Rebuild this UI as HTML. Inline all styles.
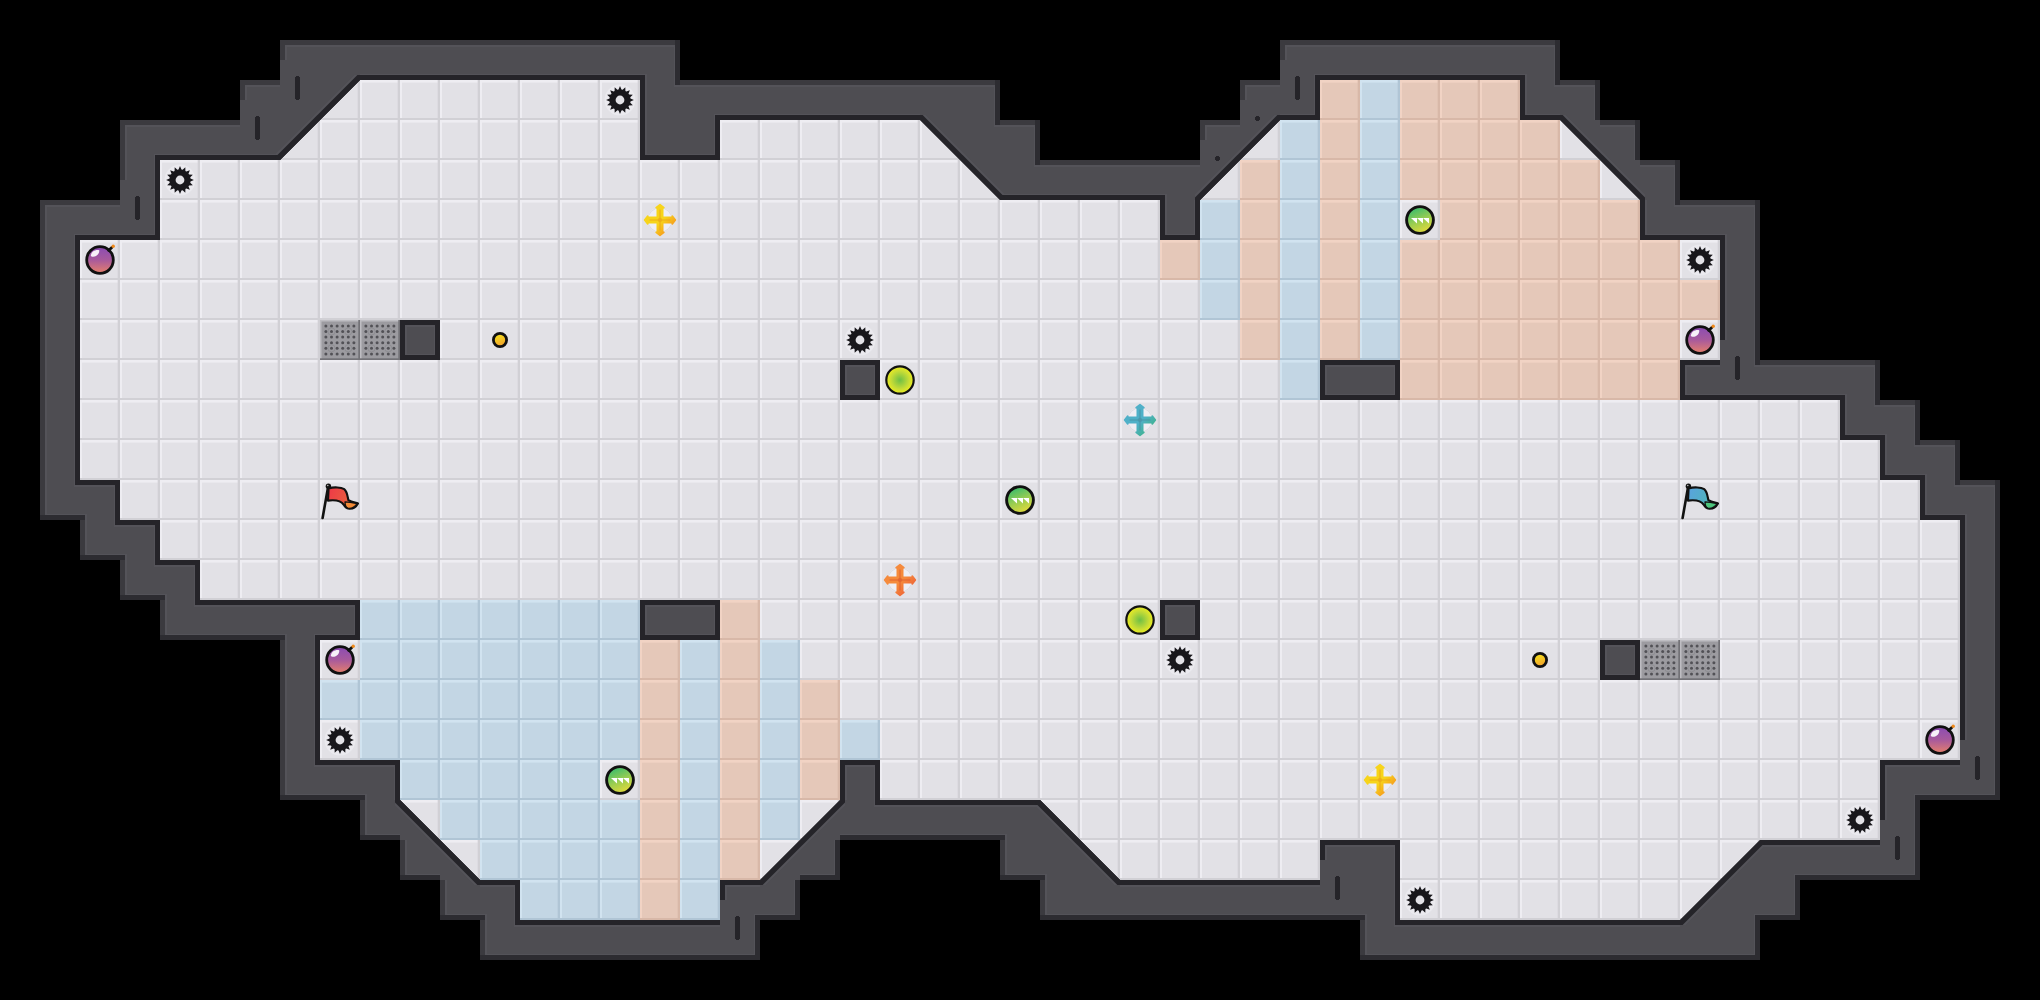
<!DOCTYPE html>
<html><head><meta charset="utf-8"><style>html,body{margin:0;padding:0;background:#000;overflow:hidden}svg{display:block}</style></head>
<body><svg width="2040" height="1000" viewBox="0 0 2040 1000" shape-rendering="crispEdges">
<defs><pattern id="pf" x="0" y="0" width="40" height="40" patternUnits="userSpaceOnUse"><rect width="40" height="40" fill="#e2e1e6"/><rect y="0" width="40" height="3" fill="#eeedf2" opacity="0.6"/><rect y="0" width="40" height="1.5" fill="#eeedf2"/><rect width="2" height="40" fill="#eeedf2"/><rect x="37" width="3" height="40" fill="#d1d0d5" opacity="0.3"/><rect x="38.3" width="1.7" height="40" fill="#d1d0d5"/><rect y="37.5" width="40" height="2.5" fill="#d1d0d5" opacity="0.6"/><rect y="38.3" width="40" height="1.7" fill="#d1d0d5"/></pattern><pattern id="pr" x="0" y="0" width="40" height="40" patternUnits="userSpaceOnUse"><rect width="40" height="40" fill="#e5c8b9"/><rect y="0" width="40" height="3" fill="#f1d3c4" opacity="0.6"/><rect y="0" width="40" height="1.5" fill="#f1d3c4"/><rect width="2" height="40" fill="#f1d3c4"/><rect x="37" width="3" height="40" fill="#d8b8a8" opacity="0.3"/><rect x="38.3" width="1.7" height="40" fill="#d8b8a8"/><rect y="37.5" width="40" height="2.5" fill="#d8b8a8" opacity="0.6"/><rect y="38.3" width="40" height="1.7" fill="#d8b8a8"/></pattern><pattern id="pb" x="0" y="0" width="40" height="40" patternUnits="userSpaceOnUse"><rect width="40" height="40" fill="#c3d6e4"/><rect y="0" width="40" height="3" fill="#d1e3f0" opacity="0.6"/><rect y="0" width="40" height="1.5" fill="#d1e3f0"/><rect width="2" height="40" fill="#d1e3f0"/><rect x="37" width="3" height="40" fill="#b0c5d5" opacity="0.3"/><rect x="38.3" width="1.7" height="40" fill="#b0c5d5"/><rect y="37.5" width="40" height="2.5" fill="#b0c5d5" opacity="0.6"/><rect y="38.3" width="40" height="1.7" fill="#b0c5d5"/></pattern>
<linearGradient id="gBomb" x1="0" y1="0" x2="0" y2="1"><stop offset="0" stop-color="#8a4cb4"/><stop offset="0.5" stop-color="#a85a9c"/><stop offset="1" stop-color="#e7806a"/></linearGradient>
<linearGradient id="gBtn" x1="0" y1="0" x2="0.4" y2="1"><stop offset="0" stop-color="#f4ec1a"/><stop offset="1" stop-color="#f3a52c"/></linearGradient>
<radialGradient id="gLime" cx="0.5" cy="0.5" r="0.5"><stop offset="0" stop-color="#6fbf45"/><stop offset="0.65" stop-color="#c6dc36"/><stop offset="1" stop-color="#eeee1e"/></radialGradient>
<linearGradient id="gPortal" x1="0.3" y1="0.05" x2="0.7" y2="0.95"><stop offset="0" stop-color="#3cbc6c"/><stop offset="0.5" stop-color="#96cc52"/><stop offset="1" stop-color="#e2da3a"/></linearGradient>
<g id="spike"><circle cx="20" cy="20" r="15.5" fill="#f2f2f6" opacity="0.55"/><path d="M18.51 9.51L20.00 6.10L21.49 9.51L22.64 9.73L25.32 7.16L25.40 10.88L26.36 11.52L29.83 10.17L28.48 13.64L29.12 14.60L32.84 14.68L30.27 17.36L30.49 18.51L33.90 20.00L30.49 21.49L30.27 22.64L32.84 25.32L29.12 25.40L28.48 26.36L29.83 29.83L26.36 28.48L25.40 29.12L25.32 32.84L22.64 30.27L21.49 30.49L20.00 33.90L18.51 30.49L17.36 30.27L14.68 32.84L14.60 29.12L13.64 28.48L10.17 29.83L11.52 26.36L10.88 25.40L7.16 25.32L9.73 22.64L9.51 21.49L6.10 20.00L9.51 18.51L9.73 17.36L7.16 14.68L10.88 14.60L11.52 13.64L10.17 10.17L13.64 11.52L14.60 10.88L14.68 7.16L17.36 9.73z" fill="#18171b"/><circle cx="20" cy="20" r="4.4" fill="#e2e1e6"/></g>
<g id="bomb"><circle cx="20" cy="20" r="13.3" fill="url(#gBomb)" stroke="#111" stroke-width="2.8"/><path d="M10.8 15.8 C11.2 11.8, 14.8 9.6, 19.2 10.2 C19.8 13.2, 16.8 16.8, 13 16.8 C12 16.8, 11.2 16.5, 10.8 15.8z" fill="#fff" opacity="0.92"/><path d="M28.6 10.4 L31.8 7.4" stroke="#111" stroke-width="2.8" stroke-linecap="round"/><circle cx="33.2" cy="6.2" r="1.7" fill="#f08a1c"/></g>
<g id="button"><circle cx="20" cy="20" r="6.6" fill="url(#gBtn)" stroke="#111" stroke-width="2.8"/></g>
<g id="lime"><circle cx="20" cy="20" r="13.7" fill="url(#gLime)" stroke="#111" stroke-width="2.2"/></g>
<g id="portal"><circle cx="20" cy="20" r="13.4" fill="url(#gPortal)" stroke="#111" stroke-width="2.9"/><path d="M11 18h6v5.6zM17 18h6v5.6zM23 18h6v5.6z" fill="#fff"/></g>
<g id="gate"><rect width="40" height="40" fill="#9c9ba0"/><rect width="40" height="1.5" fill="#bebdc2"/><rect width="1.5" height="40" fill="#bebdc2"/><rect x="38.3" width="1.7" height="40" fill="#737277"/><rect y="38.3" width="40" height="1.7" fill="#737277"/><circle cx="5.9" cy="5.9" r="1.5" fill="#525156"/><circle cx="5.9" cy="11.5" r="1.5" fill="#525156"/><circle cx="5.9" cy="17.1" r="1.5" fill="#525156"/><circle cx="5.9" cy="22.7" r="1.5" fill="#525156"/><circle cx="5.9" cy="28.3" r="1.5" fill="#525156"/><circle cx="5.9" cy="33.9" r="1.5" fill="#525156"/><circle cx="11.5" cy="5.9" r="1.5" fill="#525156"/><circle cx="11.5" cy="11.5" r="1.5" fill="#525156"/><circle cx="11.5" cy="17.1" r="1.5" fill="#525156"/><circle cx="11.5" cy="22.7" r="1.5" fill="#525156"/><circle cx="11.5" cy="28.3" r="1.5" fill="#525156"/><circle cx="11.5" cy="33.9" r="1.5" fill="#525156"/><circle cx="17.1" cy="5.9" r="1.5" fill="#525156"/><circle cx="17.1" cy="11.5" r="1.5" fill="#525156"/><circle cx="17.1" cy="17.1" r="1.5" fill="#525156"/><circle cx="17.1" cy="22.7" r="1.5" fill="#525156"/><circle cx="17.1" cy="28.3" r="1.5" fill="#525156"/><circle cx="17.1" cy="33.9" r="1.5" fill="#525156"/><circle cx="22.7" cy="5.9" r="1.5" fill="#525156"/><circle cx="22.7" cy="11.5" r="1.5" fill="#525156"/><circle cx="22.7" cy="17.1" r="1.5" fill="#525156"/><circle cx="22.7" cy="22.7" r="1.5" fill="#525156"/><circle cx="22.7" cy="28.3" r="1.5" fill="#525156"/><circle cx="22.7" cy="33.9" r="1.5" fill="#525156"/><circle cx="28.3" cy="5.9" r="1.5" fill="#525156"/><circle cx="28.3" cy="11.5" r="1.5" fill="#525156"/><circle cx="28.3" cy="17.1" r="1.5" fill="#525156"/><circle cx="28.3" cy="22.7" r="1.5" fill="#525156"/><circle cx="28.3" cy="28.3" r="1.5" fill="#525156"/><circle cx="28.3" cy="33.9" r="1.5" fill="#525156"/><circle cx="33.9" cy="5.9" r="1.5" fill="#525156"/><circle cx="33.9" cy="11.5" r="1.5" fill="#525156"/><circle cx="33.9" cy="17.1" r="1.5" fill="#525156"/><circle cx="33.9" cy="22.7" r="1.5" fill="#525156"/><circle cx="33.9" cy="28.3" r="1.5" fill="#525156"/><circle cx="33.9" cy="33.9" r="1.5" fill="#525156"/><circle cx="11.5" cy="11.5" r="3.6" fill="none" stroke="#8c8b90" stroke-width="0.8"/><circle cx="11.5" cy="28.3" r="3.6" fill="none" stroke="#8c8b90" stroke-width="0.8"/><circle cx="28.3" cy="11.5" r="3.6" fill="none" stroke="#8c8b90" stroke-width="0.8"/><circle cx="28.3" cy="28.3" r="3.6" fill="none" stroke="#8c8b90" stroke-width="0.8"/></g>
<linearGradient id="gboostY" x1="0.15" y1="0.15" x2="0.85" y2="0.85"><stop offset="0" stop-color="#f7d41a"/><stop offset="0.55" stop-color="#f7d41a" stop-opacity="1"/><stop offset="1" stop-color="#f6941e"/></linearGradient><g id="boostY"><circle cx="20" cy="20" r="12.6" fill="#efeef4"/><circle cx="20" cy="20" r="12.2" fill="none" stroke="#d2d1d9" stroke-width="1" opacity="0.7"/><path d="M17.30 7.70L16.10 7.70L20.00 4.60L23.90 7.70L22.70 7.70L22.70 17.30L32.30 17.30L32.30 16.10L35.40 20.00L32.30 23.90L32.30 22.70L22.70 22.70L22.70 32.30L23.90 32.30L20.00 35.40L16.10 32.30L17.30 32.30L17.30 22.70L7.70 22.70L7.70 23.90L4.60 20.00L7.70 16.10L7.70 17.30L17.30 17.30z" fill="url(#gboostY)" stroke="url(#gboostY)" stroke-width="1.6" stroke-linejoin="round"/><path d="M20 9.5V30.5M9.5 20H30.5" stroke="#eaa21a" stroke-width="1.6" opacity="0.5"/><circle cx="20" cy="20" r="2.2" fill="#eaa21a" opacity="0.5"/></g>
<linearGradient id="gboostR" x1="0.15" y1="0.15" x2="0.85" y2="0.85"><stop offset="0" stop-color="#f58a3c"/><stop offset="0.55" stop-color="#f58a3c" stop-opacity="1"/><stop offset="1" stop-color="#ee6236"/></linearGradient><g id="boostR"><circle cx="20" cy="20" r="12.6" fill="#efeef4"/><circle cx="20" cy="20" r="12.2" fill="none" stroke="#d2d1d9" stroke-width="1" opacity="0.7"/><path d="M17.30 7.70L16.10 7.70L20.00 4.60L23.90 7.70L22.70 7.70L22.70 17.30L32.30 17.30L32.30 16.10L35.40 20.00L32.30 23.90L32.30 22.70L22.70 22.70L22.70 32.30L23.90 32.30L20.00 35.40L16.10 32.30L17.30 32.30L17.30 22.70L7.70 22.70L7.70 23.90L4.60 20.00L7.70 16.10L7.70 17.30L17.30 17.30z" fill="url(#gboostR)" stroke="url(#gboostR)" stroke-width="1.6" stroke-linejoin="round"/><path d="M20 9.5V30.5M9.5 20H30.5" stroke="#dc5a2e" stroke-width="1.6" opacity="0.5"/><circle cx="20" cy="20" r="2.2" fill="#dc5a2e" opacity="0.5"/></g>
<linearGradient id="gboostB" x1="0.15" y1="0.15" x2="0.85" y2="0.85"><stop offset="0" stop-color="#4fb0c8"/><stop offset="0.55" stop-color="#4fb0c8" stop-opacity="1"/><stop offset="1" stop-color="#3fb38a"/></linearGradient><g id="boostB"><circle cx="20" cy="20" r="12.6" fill="#efeef4"/><circle cx="20" cy="20" r="12.2" fill="none" stroke="#d2d1d9" stroke-width="1" opacity="0.7"/><path d="M17.30 7.70L16.10 7.70L20.00 4.60L23.90 7.70L22.70 7.70L22.70 17.30L32.30 17.30L32.30 16.10L35.40 20.00L32.30 23.90L32.30 22.70L22.70 22.70L22.70 32.30L23.90 32.30L20.00 35.40L16.10 32.30L17.30 32.30L17.30 22.70L7.70 22.70L7.70 23.90L4.60 20.00L7.70 16.10L7.70 17.30L17.30 17.30z" fill="url(#gboostB)" stroke="url(#gboostB)" stroke-width="1.6" stroke-linejoin="round"/><path d="M20 9.5V30.5M9.5 20H30.5" stroke="#4a8ea0" stroke-width="1.6" opacity="0.5"/><circle cx="20" cy="20" r="2.2" fill="#4a8ea0" opacity="0.5"/></g>
<linearGradient id="gFR" x1="0" y1="0" x2="1" y2="0.3"><stop offset="0" stop-color="#ee3848"/><stop offset="1" stop-color="#e8663c"/></linearGradient>
<linearGradient id="gFB" x1="0" y1="0" x2="1" y2="0.3"><stop offset="0" stop-color="#5aa2e0"/><stop offset="1" stop-color="#4db8b4"/></linearGradient>
<g id="flagR"><path d="M8.6 8.4 C14 6.8, 21 7.2, 24.2 9.2 C27.2 11.5, 27.6 16.5, 28.4 20.2 C31 22, 35 22.6, 38 23.4 C36.2 26.6, 33 29, 29.2 28.8 C26.2 28.6, 24.6 26.4, 23.6 24.6 C21.6 21.4, 17 19.6, 8 20.6 Z" fill="url(#gFR)" stroke="#111" stroke-width="2.1" stroke-linejoin="round"/><path d="M25 21.8 C29 22, 33.5 22.8, 37 23.5 C35 26.8, 31 28.6, 28 28.2 C26 27.6, 25 25, 25 21.8 Z" fill="#f28a36" stroke="#111" stroke-width="1.3" stroke-linejoin="round"/><path d="M8 7.5 L2.6 38" stroke="#111" stroke-width="2.6" stroke-linecap="round"/><circle cx="8.4" cy="6.2" r="2.7" fill="#111"/><circle cx="7.8" cy="5.5" r="0.7" fill="#ccc"/></g>
<g id="flagB"><path d="M8.6 8.4 C14 6.8, 21 7.2, 24.2 9.2 C27.2 11.5, 27.6 16.5, 28.4 20.2 C31 22, 35 22.6, 38 23.4 C36.2 26.6, 33 29, 29.2 28.8 C26.2 28.6, 24.6 26.4, 23.6 24.6 C21.6 21.4, 17 19.6, 8 20.6 Z" fill="url(#gFB)" stroke="#111" stroke-width="2.1" stroke-linejoin="round"/><path d="M25 21.8 C29 22, 33.5 22.8, 37 23.5 C35 26.8, 31 28.6, 28 28.2 C26 27.6, 25 25, 25 21.8 Z" fill="#4cc47c" stroke="#111" stroke-width="1.3" stroke-linejoin="round"/><path d="M8 7.5 L2.6 38" stroke="#111" stroke-width="2.6" stroke-linecap="round"/><circle cx="8.4" cy="6.2" r="2.7" fill="#111"/><circle cx="7.8" cy="5.5" r="0.7" fill="#ccc"/></g>
</defs>
<rect width="2040" height="1000" fill="#000"/>
<g><path d="M320 80h40v40h-40zM360 80h40v40h-40zM400 80h40v40h-40zM440 80h40v40h-40zM480 80h40v40h-40zM520 80h40v40h-40zM560 80h40v40h-40zM600 80h40v40h-40zM280 120h40v40h-40zM320 120h40v40h-40zM360 120h40v40h-40zM400 120h40v40h-40zM440 120h40v40h-40zM480 120h40v40h-40zM520 120h40v40h-40zM560 120h40v40h-40zM600 120h40v40h-40zM720 120h40v40h-40zM760 120h40v40h-40zM800 120h40v40h-40zM840 120h40v40h-40zM880 120h40v40h-40zM920 120h40v40h-40zM1240 120h40v40h-40zM1560 120h40v40h-40zM160 160h40v40h-40zM200 160h40v40h-40zM240 160h40v40h-40zM280 160h40v40h-40zM320 160h40v40h-40zM360 160h40v40h-40zM400 160h40v40h-40zM440 160h40v40h-40zM480 160h40v40h-40zM520 160h40v40h-40zM560 160h40v40h-40zM600 160h40v40h-40zM640 160h40v40h-40zM680 160h40v40h-40zM720 160h40v40h-40zM760 160h40v40h-40zM800 160h40v40h-40zM840 160h40v40h-40zM880 160h40v40h-40zM920 160h40v40h-40zM960 160h40v40h-40zM1200 160h40v40h-40zM1600 160h40v40h-40zM160 200h40v40h-40zM200 200h40v40h-40zM240 200h40v40h-40zM280 200h40v40h-40zM320 200h40v40h-40zM360 200h40v40h-40zM400 200h40v40h-40zM440 200h40v40h-40zM480 200h40v40h-40zM520 200h40v40h-40zM560 200h40v40h-40zM600 200h40v40h-40zM640 200h40v40h-40zM680 200h40v40h-40zM720 200h40v40h-40zM760 200h40v40h-40zM800 200h40v40h-40zM840 200h40v40h-40zM880 200h40v40h-40zM920 200h40v40h-40zM960 200h40v40h-40zM1000 200h40v40h-40zM1040 200h40v40h-40zM1080 200h40v40h-40zM1120 200h40v40h-40zM1400 200h40v40h-40zM80 240h40v40h-40zM120 240h40v40h-40zM160 240h40v40h-40zM200 240h40v40h-40zM240 240h40v40h-40zM280 240h40v40h-40zM320 240h40v40h-40zM360 240h40v40h-40zM400 240h40v40h-40zM440 240h40v40h-40zM480 240h40v40h-40zM520 240h40v40h-40zM560 240h40v40h-40zM600 240h40v40h-40zM640 240h40v40h-40zM680 240h40v40h-40zM720 240h40v40h-40zM760 240h40v40h-40zM800 240h40v40h-40zM840 240h40v40h-40zM880 240h40v40h-40zM920 240h40v40h-40zM960 240h40v40h-40zM1000 240h40v40h-40zM1040 240h40v40h-40zM1080 240h40v40h-40zM1120 240h40v40h-40zM1680 240h40v40h-40zM80 280h40v40h-40zM120 280h40v40h-40zM160 280h40v40h-40zM200 280h40v40h-40zM240 280h40v40h-40zM280 280h40v40h-40zM320 280h40v40h-40zM360 280h40v40h-40zM400 280h40v40h-40zM440 280h40v40h-40zM480 280h40v40h-40zM520 280h40v40h-40zM560 280h40v40h-40zM600 280h40v40h-40zM640 280h40v40h-40zM680 280h40v40h-40zM720 280h40v40h-40zM760 280h40v40h-40zM800 280h40v40h-40zM840 280h40v40h-40zM880 280h40v40h-40zM920 280h40v40h-40zM960 280h40v40h-40zM1000 280h40v40h-40zM1040 280h40v40h-40zM1080 280h40v40h-40zM1120 280h40v40h-40zM1160 280h40v40h-40zM80 320h40v40h-40zM120 320h40v40h-40zM160 320h40v40h-40zM200 320h40v40h-40zM240 320h40v40h-40zM280 320h40v40h-40zM320 320h40v40h-40zM360 320h40v40h-40zM440 320h40v40h-40zM480 320h40v40h-40zM520 320h40v40h-40zM560 320h40v40h-40zM600 320h40v40h-40zM640 320h40v40h-40zM680 320h40v40h-40zM720 320h40v40h-40zM760 320h40v40h-40zM800 320h40v40h-40zM840 320h40v40h-40zM880 320h40v40h-40zM920 320h40v40h-40zM960 320h40v40h-40zM1000 320h40v40h-40zM1040 320h40v40h-40zM1080 320h40v40h-40zM1120 320h40v40h-40zM1160 320h40v40h-40zM1200 320h40v40h-40zM1680 320h40v40h-40zM80 360h40v40h-40zM120 360h40v40h-40zM160 360h40v40h-40zM200 360h40v40h-40zM240 360h40v40h-40zM280 360h40v40h-40zM320 360h40v40h-40zM360 360h40v40h-40zM400 360h40v40h-40zM440 360h40v40h-40zM480 360h40v40h-40zM520 360h40v40h-40zM560 360h40v40h-40zM600 360h40v40h-40zM640 360h40v40h-40zM680 360h40v40h-40zM720 360h40v40h-40zM760 360h40v40h-40zM800 360h40v40h-40zM880 360h40v40h-40zM920 360h40v40h-40zM960 360h40v40h-40zM1000 360h40v40h-40zM1040 360h40v40h-40zM1080 360h40v40h-40zM1120 360h40v40h-40zM1160 360h40v40h-40zM1200 360h40v40h-40zM1240 360h40v40h-40zM80 400h40v40h-40zM120 400h40v40h-40zM160 400h40v40h-40zM200 400h40v40h-40zM240 400h40v40h-40zM280 400h40v40h-40zM320 400h40v40h-40zM360 400h40v40h-40zM400 400h40v40h-40zM440 400h40v40h-40zM480 400h40v40h-40zM520 400h40v40h-40zM560 400h40v40h-40zM600 400h40v40h-40zM640 400h40v40h-40zM680 400h40v40h-40zM720 400h40v40h-40zM760 400h40v40h-40zM800 400h40v40h-40zM840 400h40v40h-40zM880 400h40v40h-40zM920 400h40v40h-40zM960 400h40v40h-40zM1000 400h40v40h-40zM1040 400h40v40h-40zM1080 400h40v40h-40zM1120 400h40v40h-40zM1160 400h40v40h-40zM1200 400h40v40h-40zM1240 400h40v40h-40zM1280 400h40v40h-40zM1320 400h40v40h-40zM1360 400h40v40h-40zM1400 400h40v40h-40zM1440 400h40v40h-40zM1480 400h40v40h-40zM1520 400h40v40h-40zM1560 400h40v40h-40zM1600 400h40v40h-40zM1640 400h40v40h-40zM1680 400h40v40h-40zM1720 400h40v40h-40zM1760 400h40v40h-40zM1800 400h40v40h-40zM80 440h40v40h-40zM120 440h40v40h-40zM160 440h40v40h-40zM200 440h40v40h-40zM240 440h40v40h-40zM280 440h40v40h-40zM320 440h40v40h-40zM360 440h40v40h-40zM400 440h40v40h-40zM440 440h40v40h-40zM480 440h40v40h-40zM520 440h40v40h-40zM560 440h40v40h-40zM600 440h40v40h-40zM640 440h40v40h-40zM680 440h40v40h-40zM720 440h40v40h-40zM760 440h40v40h-40zM800 440h40v40h-40zM840 440h40v40h-40zM880 440h40v40h-40zM920 440h40v40h-40zM960 440h40v40h-40zM1000 440h40v40h-40zM1040 440h40v40h-40zM1080 440h40v40h-40zM1120 440h40v40h-40zM1160 440h40v40h-40zM1200 440h40v40h-40zM1240 440h40v40h-40zM1280 440h40v40h-40zM1320 440h40v40h-40zM1360 440h40v40h-40zM1400 440h40v40h-40zM1440 440h40v40h-40zM1480 440h40v40h-40zM1520 440h40v40h-40zM1560 440h40v40h-40zM1600 440h40v40h-40zM1640 440h40v40h-40zM1680 440h40v40h-40zM1720 440h40v40h-40zM1760 440h40v40h-40zM1800 440h40v40h-40zM1840 440h40v40h-40zM120 480h40v40h-40zM160 480h40v40h-40zM200 480h40v40h-40zM240 480h40v40h-40zM280 480h40v40h-40zM320 480h40v40h-40zM360 480h40v40h-40zM400 480h40v40h-40zM440 480h40v40h-40zM480 480h40v40h-40zM520 480h40v40h-40zM560 480h40v40h-40zM600 480h40v40h-40zM640 480h40v40h-40zM680 480h40v40h-40zM720 480h40v40h-40zM760 480h40v40h-40zM800 480h40v40h-40zM840 480h40v40h-40zM880 480h40v40h-40zM920 480h40v40h-40zM960 480h40v40h-40zM1000 480h40v40h-40zM1040 480h40v40h-40zM1080 480h40v40h-40zM1120 480h40v40h-40zM1160 480h40v40h-40zM1200 480h40v40h-40zM1240 480h40v40h-40zM1280 480h40v40h-40zM1320 480h40v40h-40zM1360 480h40v40h-40zM1400 480h40v40h-40zM1440 480h40v40h-40zM1480 480h40v40h-40zM1520 480h40v40h-40zM1560 480h40v40h-40zM1600 480h40v40h-40zM1640 480h40v40h-40zM1680 480h40v40h-40zM1720 480h40v40h-40zM1760 480h40v40h-40zM1800 480h40v40h-40zM1840 480h40v40h-40zM1880 480h40v40h-40zM160 520h40v40h-40zM200 520h40v40h-40zM240 520h40v40h-40zM280 520h40v40h-40zM320 520h40v40h-40zM360 520h40v40h-40zM400 520h40v40h-40zM440 520h40v40h-40zM480 520h40v40h-40zM520 520h40v40h-40zM560 520h40v40h-40zM600 520h40v40h-40zM640 520h40v40h-40zM680 520h40v40h-40zM720 520h40v40h-40zM760 520h40v40h-40zM800 520h40v40h-40zM840 520h40v40h-40zM880 520h40v40h-40zM920 520h40v40h-40zM960 520h40v40h-40zM1000 520h40v40h-40zM1040 520h40v40h-40zM1080 520h40v40h-40zM1120 520h40v40h-40zM1160 520h40v40h-40zM1200 520h40v40h-40zM1240 520h40v40h-40zM1280 520h40v40h-40zM1320 520h40v40h-40zM1360 520h40v40h-40zM1400 520h40v40h-40zM1440 520h40v40h-40zM1480 520h40v40h-40zM1520 520h40v40h-40zM1560 520h40v40h-40zM1600 520h40v40h-40zM1640 520h40v40h-40zM1680 520h40v40h-40zM1720 520h40v40h-40zM1760 520h40v40h-40zM1800 520h40v40h-40zM1840 520h40v40h-40zM1880 520h40v40h-40zM1920 520h40v40h-40zM200 560h40v40h-40zM240 560h40v40h-40zM280 560h40v40h-40zM320 560h40v40h-40zM360 560h40v40h-40zM400 560h40v40h-40zM440 560h40v40h-40zM480 560h40v40h-40zM520 560h40v40h-40zM560 560h40v40h-40zM600 560h40v40h-40zM640 560h40v40h-40zM680 560h40v40h-40zM720 560h40v40h-40zM760 560h40v40h-40zM800 560h40v40h-40zM840 560h40v40h-40zM880 560h40v40h-40zM920 560h40v40h-40zM960 560h40v40h-40zM1000 560h40v40h-40zM1040 560h40v40h-40zM1080 560h40v40h-40zM1120 560h40v40h-40zM1160 560h40v40h-40zM1200 560h40v40h-40zM1240 560h40v40h-40zM1280 560h40v40h-40zM1320 560h40v40h-40zM1360 560h40v40h-40zM1400 560h40v40h-40zM1440 560h40v40h-40zM1480 560h40v40h-40zM1520 560h40v40h-40zM1560 560h40v40h-40zM1600 560h40v40h-40zM1640 560h40v40h-40zM1680 560h40v40h-40zM1720 560h40v40h-40zM1760 560h40v40h-40zM1800 560h40v40h-40zM1840 560h40v40h-40zM1880 560h40v40h-40zM1920 560h40v40h-40zM760 600h40v40h-40zM800 600h40v40h-40zM840 600h40v40h-40zM880 600h40v40h-40zM920 600h40v40h-40zM960 600h40v40h-40zM1000 600h40v40h-40zM1040 600h40v40h-40zM1080 600h40v40h-40zM1120 600h40v40h-40zM1200 600h40v40h-40zM1240 600h40v40h-40zM1280 600h40v40h-40zM1320 600h40v40h-40zM1360 600h40v40h-40zM1400 600h40v40h-40zM1440 600h40v40h-40zM1480 600h40v40h-40zM1520 600h40v40h-40zM1560 600h40v40h-40zM1600 600h40v40h-40zM1640 600h40v40h-40zM1680 600h40v40h-40zM1720 600h40v40h-40zM1760 600h40v40h-40zM1800 600h40v40h-40zM1840 600h40v40h-40zM1880 600h40v40h-40zM1920 600h40v40h-40zM320 640h40v40h-40zM800 640h40v40h-40zM840 640h40v40h-40zM880 640h40v40h-40zM920 640h40v40h-40zM960 640h40v40h-40zM1000 640h40v40h-40zM1040 640h40v40h-40zM1080 640h40v40h-40zM1120 640h40v40h-40zM1160 640h40v40h-40zM1200 640h40v40h-40zM1240 640h40v40h-40zM1280 640h40v40h-40zM1320 640h40v40h-40zM1360 640h40v40h-40zM1400 640h40v40h-40zM1440 640h40v40h-40zM1480 640h40v40h-40zM1520 640h40v40h-40zM1560 640h40v40h-40zM1640 640h40v40h-40zM1680 640h40v40h-40zM1720 640h40v40h-40zM1760 640h40v40h-40zM1800 640h40v40h-40zM1840 640h40v40h-40zM1880 640h40v40h-40zM1920 640h40v40h-40zM840 680h40v40h-40zM880 680h40v40h-40zM920 680h40v40h-40zM960 680h40v40h-40zM1000 680h40v40h-40zM1040 680h40v40h-40zM1080 680h40v40h-40zM1120 680h40v40h-40zM1160 680h40v40h-40zM1200 680h40v40h-40zM1240 680h40v40h-40zM1280 680h40v40h-40zM1320 680h40v40h-40zM1360 680h40v40h-40zM1400 680h40v40h-40zM1440 680h40v40h-40zM1480 680h40v40h-40zM1520 680h40v40h-40zM1560 680h40v40h-40zM1600 680h40v40h-40zM1640 680h40v40h-40zM1680 680h40v40h-40zM1720 680h40v40h-40zM1760 680h40v40h-40zM1800 680h40v40h-40zM1840 680h40v40h-40zM1880 680h40v40h-40zM1920 680h40v40h-40zM320 720h40v40h-40zM880 720h40v40h-40zM920 720h40v40h-40zM960 720h40v40h-40zM1000 720h40v40h-40zM1040 720h40v40h-40zM1080 720h40v40h-40zM1120 720h40v40h-40zM1160 720h40v40h-40zM1200 720h40v40h-40zM1240 720h40v40h-40zM1280 720h40v40h-40zM1320 720h40v40h-40zM1360 720h40v40h-40zM1400 720h40v40h-40zM1440 720h40v40h-40zM1480 720h40v40h-40zM1520 720h40v40h-40zM1560 720h40v40h-40zM1600 720h40v40h-40zM1640 720h40v40h-40zM1680 720h40v40h-40zM1720 720h40v40h-40zM1760 720h40v40h-40zM1800 720h40v40h-40zM1840 720h40v40h-40zM1880 720h40v40h-40zM1920 720h40v40h-40zM600 760h40v40h-40zM880 760h40v40h-40zM920 760h40v40h-40zM960 760h40v40h-40zM1000 760h40v40h-40zM1040 760h40v40h-40zM1080 760h40v40h-40zM1120 760h40v40h-40zM1160 760h40v40h-40zM1200 760h40v40h-40zM1240 760h40v40h-40zM1280 760h40v40h-40zM1320 760h40v40h-40zM1360 760h40v40h-40zM1400 760h40v40h-40zM1440 760h40v40h-40zM1480 760h40v40h-40zM1520 760h40v40h-40zM1560 760h40v40h-40zM1600 760h40v40h-40zM1640 760h40v40h-40zM1680 760h40v40h-40zM1720 760h40v40h-40zM1760 760h40v40h-40zM1800 760h40v40h-40zM1840 760h40v40h-40zM400 800h40v40h-40zM800 800h40v40h-40zM1040 800h40v40h-40zM1080 800h40v40h-40zM1120 800h40v40h-40zM1160 800h40v40h-40zM1200 800h40v40h-40zM1240 800h40v40h-40zM1280 800h40v40h-40zM1320 800h40v40h-40zM1360 800h40v40h-40zM1400 800h40v40h-40zM1440 800h40v40h-40zM1480 800h40v40h-40zM1520 800h40v40h-40zM1560 800h40v40h-40zM1600 800h40v40h-40zM1640 800h40v40h-40zM1680 800h40v40h-40zM1720 800h40v40h-40zM1760 800h40v40h-40zM1800 800h40v40h-40zM1840 800h40v40h-40zM440 840h40v40h-40zM760 840h40v40h-40zM1080 840h40v40h-40zM1120 840h40v40h-40zM1160 840h40v40h-40zM1200 840h40v40h-40zM1240 840h40v40h-40zM1280 840h40v40h-40zM1400 840h40v40h-40zM1440 840h40v40h-40zM1480 840h40v40h-40zM1520 840h40v40h-40zM1560 840h40v40h-40zM1600 840h40v40h-40zM1640 840h40v40h-40zM1680 840h40v40h-40zM1720 840h40v40h-40zM1400 880h40v40h-40zM1440 880h40v40h-40zM1480 880h40v40h-40zM1520 880h40v40h-40zM1560 880h40v40h-40zM1600 880h40v40h-40zM1640 880h40v40h-40zM1680 880h40v40h-40z" fill="url(#pf)"/><path d="M1320 80h40v40h-40zM1400 80h40v40h-40zM1440 80h40v40h-40zM1480 80h40v40h-40zM1320 120h40v40h-40zM1400 120h40v40h-40zM1440 120h40v40h-40zM1480 120h40v40h-40zM1520 120h40v40h-40zM1240 160h40v40h-40zM1320 160h40v40h-40zM1400 160h40v40h-40zM1440 160h40v40h-40zM1480 160h40v40h-40zM1520 160h40v40h-40zM1560 160h40v40h-40zM1240 200h40v40h-40zM1320 200h40v40h-40zM1440 200h40v40h-40zM1480 200h40v40h-40zM1520 200h40v40h-40zM1560 200h40v40h-40zM1600 200h40v40h-40zM1160 240h40v40h-40zM1240 240h40v40h-40zM1320 240h40v40h-40zM1400 240h40v40h-40zM1440 240h40v40h-40zM1480 240h40v40h-40zM1520 240h40v40h-40zM1560 240h40v40h-40zM1600 240h40v40h-40zM1640 240h40v40h-40zM1240 280h40v40h-40zM1320 280h40v40h-40zM1400 280h40v40h-40zM1440 280h40v40h-40zM1480 280h40v40h-40zM1520 280h40v40h-40zM1560 280h40v40h-40zM1600 280h40v40h-40zM1640 280h40v40h-40zM1680 280h40v40h-40zM1240 320h40v40h-40zM1320 320h40v40h-40zM1400 320h40v40h-40zM1440 320h40v40h-40zM1480 320h40v40h-40zM1520 320h40v40h-40zM1560 320h40v40h-40zM1600 320h40v40h-40zM1640 320h40v40h-40zM1400 360h40v40h-40zM1440 360h40v40h-40zM1480 360h40v40h-40zM1520 360h40v40h-40zM1560 360h40v40h-40zM1600 360h40v40h-40zM1640 360h40v40h-40zM720 600h40v40h-40zM640 640h40v40h-40zM720 640h40v40h-40zM640 680h40v40h-40zM720 680h40v40h-40zM800 680h40v40h-40zM640 720h40v40h-40zM720 720h40v40h-40zM800 720h40v40h-40zM640 760h40v40h-40zM720 760h40v40h-40zM800 760h40v40h-40zM640 800h40v40h-40zM720 800h40v40h-40zM640 840h40v40h-40zM720 840h40v40h-40zM640 880h40v40h-40z" fill="url(#pr)"/><path d="M1360 80h40v40h-40zM1280 120h40v40h-40zM1360 120h40v40h-40zM1280 160h40v40h-40zM1360 160h40v40h-40zM1200 200h40v40h-40zM1280 200h40v40h-40zM1360 200h40v40h-40zM1200 240h40v40h-40zM1280 240h40v40h-40zM1360 240h40v40h-40zM1200 280h40v40h-40zM1280 280h40v40h-40zM1360 280h40v40h-40zM1280 320h40v40h-40zM1360 320h40v40h-40zM1280 360h40v40h-40zM360 600h40v40h-40zM400 600h40v40h-40zM440 600h40v40h-40zM480 600h40v40h-40zM520 600h40v40h-40zM560 600h40v40h-40zM600 600h40v40h-40zM360 640h40v40h-40zM400 640h40v40h-40zM440 640h40v40h-40zM480 640h40v40h-40zM520 640h40v40h-40zM560 640h40v40h-40zM600 640h40v40h-40zM680 640h40v40h-40zM760 640h40v40h-40zM320 680h40v40h-40zM360 680h40v40h-40zM400 680h40v40h-40zM440 680h40v40h-40zM480 680h40v40h-40zM520 680h40v40h-40zM560 680h40v40h-40zM600 680h40v40h-40zM680 680h40v40h-40zM760 680h40v40h-40zM360 720h40v40h-40zM400 720h40v40h-40zM440 720h40v40h-40zM480 720h40v40h-40zM520 720h40v40h-40zM560 720h40v40h-40zM600 720h40v40h-40zM680 720h40v40h-40zM760 720h40v40h-40zM840 720h40v40h-40zM400 760h40v40h-40zM440 760h40v40h-40zM480 760h40v40h-40zM520 760h40v40h-40zM560 760h40v40h-40zM680 760h40v40h-40zM760 760h40v40h-40zM440 800h40v40h-40zM480 800h40v40h-40zM520 800h40v40h-40zM560 800h40v40h-40zM600 800h40v40h-40zM680 800h40v40h-40zM760 800h40v40h-40zM480 840h40v40h-40zM520 840h40v40h-40zM560 840h40v40h-40zM600 840h40v40h-40zM680 840h40v40h-40zM520 880h40v40h-40zM560 880h40v40h-40zM600 880h40v40h-40zM680 880h40v40h-40z" fill="url(#pb)"/><path d="M280 40h40v40h-40zM320 40h40v40h-40zM360 40h40v40h-40zM400 40h40v40h-40zM440 40h40v40h-40zM480 40h40v40h-40zM520 40h40v40h-40zM560 40h40v40h-40zM600 40h40v40h-40zM640 40h40v40h-40zM1280 40h40v40h-40zM1320 40h40v40h-40zM1360 40h40v40h-40zM1400 40h40v40h-40zM1440 40h40v40h-40zM1480 40h40v40h-40zM1520 40h40v40h-40zM240 80h40v40h-40zM280 80h40v40h-40zM320 80h40l-40 40zM640 80h40v40h-40zM680 80h40v40h-40zM720 80h40v40h-40zM760 80h40v40h-40zM800 80h40v40h-40zM840 80h40v40h-40zM880 80h40v40h-40zM920 80h40v40h-40zM960 80h40v40h-40zM1240 80h40v40h-40zM1280 80h40v40h-40zM1520 80h40v40h-40zM1560 80h40v40h-40zM120 120h40v40h-40zM160 120h40v40h-40zM200 120h40v40h-40zM240 120h40v40h-40zM280 120h40l-40 40zM640 120h40v40h-40zM680 120h40v40h-40zM920 120h40v40zM960 120h40v40h-40zM1000 120h40v40h-40zM1200 120h40v40h-40zM1240 120h40l-40 40zM1560 120h40v40zM1600 120h40v40h-40zM120 160h40v40h-40zM960 160h40v40zM1000 160h40v40h-40zM1040 160h40v40h-40zM1080 160h40v40h-40zM1120 160h40v40h-40zM1160 160h40v40h-40zM1200 160h40l-40 40zM1600 160h40v40zM1640 160h40v40h-40zM40 200h40v40h-40zM80 200h40v40h-40zM120 200h40v40h-40zM1160 200h40v40h-40zM1640 200h40v40h-40zM1680 200h40v40h-40zM1720 200h40v40h-40zM40 240h40v40h-40zM1720 240h40v40h-40zM40 280h40v40h-40zM1720 280h40v40h-40zM40 320h40v40h-40zM400 320h40v40h-40zM1720 320h40v40h-40zM40 360h40v40h-40zM840 360h40v40h-40zM1320 360h40v40h-40zM1360 360h40v40h-40zM1680 360h40v40h-40zM1720 360h40v40h-40zM1760 360h40v40h-40zM1800 360h40v40h-40zM1840 360h40v40h-40zM40 400h40v40h-40zM1840 400h40v40h-40zM1880 400h40v40h-40zM40 440h40v40h-40zM1880 440h40v40h-40zM1920 440h40v40h-40zM40 480h40v40h-40zM80 480h40v40h-40zM1920 480h40v40h-40zM1960 480h40v40h-40zM80 520h40v40h-40zM120 520h40v40h-40zM1960 520h40v40h-40zM120 560h40v40h-40zM160 560h40v40h-40zM1960 560h40v40h-40zM160 600h40v40h-40zM200 600h40v40h-40zM240 600h40v40h-40zM280 600h40v40h-40zM320 600h40v40h-40zM640 600h40v40h-40zM680 600h40v40h-40zM1160 600h40v40h-40zM1960 600h40v40h-40zM280 640h40v40h-40zM1600 640h40v40h-40zM1960 640h40v40h-40zM280 680h40v40h-40zM1960 680h40v40h-40zM280 720h40v40h-40zM1960 720h40v40h-40zM280 760h40v40h-40zM320 760h40v40h-40zM360 760h40v40h-40zM840 760h40v40h-40zM1880 760h40v40h-40zM1920 760h40v40h-40zM1960 760h40v40h-40zM360 800h40v40h-40zM400 800l40 40h-40zM840 800v40h-40zM840 800h40v40h-40zM880 800h40v40h-40zM920 800h40v40h-40zM960 800h40v40h-40zM1000 800h40v40h-40zM1040 800l40 40h-40zM1880 800h40v40h-40zM400 840h40v40h-40zM440 840l40 40h-40zM800 840v40h-40zM800 840h40v40h-40zM1000 840h40v40h-40zM1040 840h40v40h-40zM1080 840l40 40h-40zM1320 840h40v40h-40zM1360 840h40v40h-40zM1760 840v40h-40zM1760 840h40v40h-40zM1800 840h40v40h-40zM1840 840h40v40h-40zM1880 840h40v40h-40zM440 880h40v40h-40zM480 880h40v40h-40zM720 880h40v40h-40zM760 880h40v40h-40zM1040 880h40v40h-40zM1080 880h40v40h-40zM1120 880h40v40h-40zM1160 880h40v40h-40zM1200 880h40v40h-40zM1240 880h40v40h-40zM1280 880h40v40h-40zM1320 880h40v40h-40zM1360 880h40v40h-40zM1720 880v40h-40zM1720 880h40v40h-40zM1760 880h40v40h-40zM480 920h40v40h-40zM520 920h40v40h-40zM560 920h40v40h-40zM600 920h40v40h-40zM640 920h40v40h-40zM680 920h40v40h-40zM720 920h40v40h-40zM1360 920h40v40h-40zM1400 920h40v40h-40zM1440 920h40v40h-40zM1480 920h40v40h-40zM1520 920h40v40h-40zM1560 920h40v40h-40zM1600 920h40v40h-40zM1640 920h40v40h-40zM1680 920h40v40h-40zM1720 920h40v40h-40z" fill="#4e4d52"/><path d="M280 40h40v6.5h-40zM280 40h6.5v20h-6.5zM320 40h40v6.5h-40zM360 40h40v6.5h-40zM400 40h40v6.5h-40zM440 40h40v6.5h-40zM480 40h40v6.5h-40zM520 40h40v6.5h-40zM560 40h40v6.5h-40zM600 40h40v6.5h-40zM640 40h40v6.5h-40zM673.5 40h6.5v40h-6.5zM1280 40h40v6.5h-40zM1280 40h6.5v20h-6.5zM1320 40h40v6.5h-40zM1360 40h40v6.5h-40zM1400 40h40v6.5h-40zM1440 40h40v6.5h-40zM1480 40h40v6.5h-40zM1520 40h40v6.5h-40zM1553.5 40h6.5v40h-6.5zM240 80h40v6.5h-40zM240 80h6.5v20h-6.5zM673.5 80h6.5v6.5h-6.5zM680 80h40v6.5h-40zM720 80h40v6.5h-40zM760 80h40v6.5h-40zM800 80h40v6.5h-40zM840 80h40v6.5h-40zM880 80h40v6.5h-40zM920 80h40v6.5h-40zM960 80h40v6.5h-40zM993.5 80h6.5v40h-6.5zM1240 80h40v6.5h-40zM1240 80h6.5v20h-6.5zM1553.5 80h6.5v6.5h-6.5zM1560 80h40v6.5h-40zM1593.5 80h6.5v40h-6.5zM120 120h40v6.5h-40zM120 120h6.5v40h-6.5zM160 120h40v6.5h-40zM200 120h40v6.5h-40zM993.5 120h6.5v6.5h-6.5zM1000 120h40v6.5h-40zM1033.5 120h6.5v40h-6.5zM1200 120h40v6.5h-40zM1200 120h6.5v20h-6.5zM1600 120h40v6.5h-40zM1633.5 120h6.5v40h-6.5zM120 160h6.5v20h-6.5zM1033.5 160h6.5v6.5h-6.5zM1040 160h40v6.5h-40zM1080 160h40v6.5h-40zM1120 160h40v6.5h-40zM1160 160h40v6.5h-40zM1640 160h40v6.5h-40zM1673.5 160h6.5v40h-6.5zM40 200h40v6.5h-40zM40 200h6.5v40h-6.5zM80 200h40v6.5h-40zM1673.5 200h6.5v6.5h-6.5zM1680 200h40v6.5h-40zM1720 200h40v6.5h-40zM1753.5 200h6.5v40h-6.5zM40 240h6.5v40h-6.5zM1753.5 240h6.5v40h-6.5zM40 280h6.5v40h-6.5zM1753.5 280h6.5v40h-6.5zM40 320h6.5v40h-6.5zM1753.5 320h6.5v40h-6.5zM40 360h6.5v40h-6.5zM1753.5 360h6.5v6.5h-6.5zM1760 360h40v6.5h-40zM1800 360h40v6.5h-40zM1840 360h40v6.5h-40zM1873.5 360h6.5v40h-6.5zM40 400h6.5v40h-6.5zM1873.5 400h6.5v6.5h-6.5zM1880 400h40v6.5h-40zM1913.5 400h6.5v40h-6.5zM40 440h6.5v40h-6.5zM1913.5 440h6.5v6.5h-6.5zM1920 440h40v6.5h-40zM1953.5 440h6.5v40h-6.5zM40 513.5h40v6.5h-40zM40 480h6.5v40h-6.5zM80 513.5h6.5v6.5h-6.5zM1953.5 480h6.5v6.5h-6.5zM1960 480h40v6.5h-40zM1993.5 480h6.5v40h-6.5zM80 553.5h40v6.5h-40zM80 520h6.5v40h-6.5zM120 553.5h6.5v6.5h-6.5zM1993.5 520h6.5v40h-6.5zM120 593.5h40v6.5h-40zM120 560h6.5v40h-6.5zM160 593.5h6.5v6.5h-6.5zM1993.5 560h6.5v40h-6.5zM160 633.5h40v6.5h-40zM160 600h6.5v40h-6.5zM200 633.5h40v6.5h-40zM240 633.5h40v6.5h-40zM280 633.5h6.5v6.5h-6.5zM1993.5 600h6.5v40h-6.5zM280 640h6.5v40h-6.5zM1993.5 640h6.5v40h-6.5zM280 680h6.5v40h-6.5zM1993.5 680h6.5v40h-6.5zM280 720h6.5v40h-6.5zM1993.5 720h6.5v40h-6.5zM280 793.5h40v6.5h-40zM280 760h6.5v40h-6.5zM320 793.5h40v6.5h-40zM360 793.5h6.5v6.5h-6.5zM1913.5 793.5h6.5v6.5h-6.5zM1920 793.5h40v6.5h-40zM1960 793.5h40v6.5h-40zM1993.5 760h6.5v40h-6.5zM360 833.5h40v6.5h-40zM360 800h6.5v40h-6.5zM840 833.5h40v6.5h-40zM880 833.5h40v6.5h-40zM920 833.5h40v6.5h-40zM960 833.5h40v6.5h-40zM1000 833.5h6.5v6.5h-6.5zM1913.5 800h6.5v40h-6.5zM400 873.5h40v6.5h-40zM400 840h6.5v40h-6.5zM800 873.5h40v6.5h-40zM833.5 840h6.5v40h-6.5zM1000 873.5h40v6.5h-40zM1000 840h6.5v40h-6.5zM1040 873.5h6.5v6.5h-6.5zM1793.5 873.5h6.5v6.5h-6.5zM1800 873.5h40v6.5h-40zM1840 873.5h40v6.5h-40zM1880 873.5h40v6.5h-40zM1913.5 840h6.5v40h-6.5zM440 913.5h40v6.5h-40zM440 880h6.5v40h-6.5zM480 913.5h6.5v6.5h-6.5zM753.5 913.5h6.5v6.5h-6.5zM760 913.5h40v6.5h-40zM793.5 880h6.5v40h-6.5zM1040 913.5h40v6.5h-40zM1040 880h6.5v40h-6.5zM1080 913.5h40v6.5h-40zM1120 913.5h40v6.5h-40zM1160 913.5h40v6.5h-40zM1200 913.5h40v6.5h-40zM1240 913.5h40v6.5h-40zM1280 913.5h40v6.5h-40zM1320 913.5h40v6.5h-40zM1360 913.5h6.5v6.5h-6.5zM1753.5 913.5h6.5v6.5h-6.5zM1760 913.5h40v6.5h-40zM1793.5 880h6.5v40h-6.5zM480 953.5h40v6.5h-40zM480 920h6.5v40h-6.5zM520 953.5h40v6.5h-40zM560 953.5h40v6.5h-40zM600 953.5h40v6.5h-40zM640 953.5h40v6.5h-40zM680 953.5h40v6.5h-40zM720 953.5h40v6.5h-40zM753.5 920h6.5v40h-6.5zM1360 953.5h40v6.5h-40zM1360 920h6.5v40h-6.5zM1400 953.5h40v6.5h-40zM1440 953.5h40v6.5h-40zM1480 953.5h40v6.5h-40zM1520 953.5h40v6.5h-40zM1560 953.5h40v6.5h-40zM1600 953.5h40v6.5h-40zM1640 953.5h40v6.5h-40zM1680 953.5h40v6.5h-40zM1720 953.5h40v6.5h-40zM1753.5 920h6.5v40h-6.5z" fill="#545359"/><path d="M360 73.5h40v6.5h-40zM400 73.5h40v6.5h-40zM440 73.5h40v6.5h-40zM480 73.5h40v6.5h-40zM520 73.5h40v6.5h-40zM560 73.5h40v6.5h-40zM600 73.5h40v6.5h-40zM640 73.5h6.5v6.5h-6.5zM1313.5 73.5h6.5v6.5h-6.5zM1320 73.5h40v6.5h-40zM1360 73.5h40v6.5h-40zM1400 73.5h40v6.5h-40zM1440 73.5h40v6.5h-40zM1480 73.5h40v6.5h-40zM1520 73.5h6.5v6.5h-6.5zM640 80h6.5v40h-6.5zM713.5 113.5h6.5v6.5h-6.5zM720 113.5h40v6.5h-40zM760 113.5h40v6.5h-40zM800 113.5h40v6.5h-40zM840 113.5h40v6.5h-40zM880 113.5h40v6.5h-40zM1280 113.5h40v6.5h-40zM1313.5 80h6.5v40h-6.5zM1520 113.5h40v6.5h-40zM1520 80h6.5v40h-6.5zM153.5 153.5h6.5v6.5h-6.5zM160 153.5h40v6.5h-40zM200 153.5h40v6.5h-40zM240 153.5h40v6.5h-40zM640 153.5h40v6.5h-40zM640 120h6.5v40h-6.5zM680 153.5h40v6.5h-40zM713.5 120h6.5v40h-6.5zM153.5 160h6.5v40h-6.5zM1000 193.5h40v6.5h-40zM1040 193.5h40v6.5h-40zM1080 193.5h40v6.5h-40zM1120 193.5h40v6.5h-40zM1160 193.5h6.5v6.5h-6.5zM73.5 233.5h6.5v6.5h-6.5zM80 233.5h40v6.5h-40zM120 233.5h40v6.5h-40zM153.5 200h6.5v40h-6.5zM1160 233.5h40v6.5h-40zM1160 200h6.5v40h-6.5zM1193.5 200h6.5v40h-6.5zM1640 233.5h40v6.5h-40zM1640 200h6.5v40h-6.5zM1680 233.5h40v6.5h-40zM1720 233.5h6.5v6.5h-6.5zM73.5 240h6.5v40h-6.5zM1720 240h6.5v40h-6.5zM73.5 280h6.5v40h-6.5zM1720 280h6.5v40h-6.5zM73.5 320h6.5v40h-6.5zM400 320h40v6.5h-40zM400 353.5h40v6.5h-40zM400 320h6.5v40h-6.5zM433.5 320h6.5v40h-6.5zM1720 320h6.5v20h-6.5zM73.5 360h6.5v40h-6.5zM840 360h40v6.5h-40zM840 393.5h40v6.5h-40zM840 360h6.5v40h-6.5zM873.5 360h6.5v40h-6.5zM1320 360h40v6.5h-40zM1320 393.5h40v6.5h-40zM1320 360h6.5v40h-6.5zM1360 360h40v6.5h-40zM1360 393.5h40v6.5h-40zM1393.5 360h6.5v40h-6.5zM1680 360h40v6.5h-40zM1680 393.5h40v6.5h-40zM1680 360h6.5v40h-6.5zM1720 393.5h40v6.5h-40zM1760 393.5h40v6.5h-40zM1800 393.5h40v6.5h-40zM1840 393.5h6.5v6.5h-6.5zM73.5 400h6.5v40h-6.5zM1840 433.5h40v6.5h-40zM1840 400h6.5v40h-6.5zM1880 433.5h6.5v6.5h-6.5zM73.5 440h6.5v40h-6.5zM1880 473.5h40v6.5h-40zM1880 440h6.5v40h-6.5zM1920 473.5h6.5v6.5h-6.5zM73.5 480h6.5v6.5h-6.5zM80 480h40v6.5h-40zM113.5 480h6.5v40h-6.5zM1920 513.5h40v6.5h-40zM1920 480h6.5v40h-6.5zM1960 513.5h6.5v6.5h-6.5zM113.5 520h6.5v6.5h-6.5zM120 520h40v6.5h-40zM153.5 520h6.5v40h-6.5zM1960 520h6.5v40h-6.5zM153.5 560h6.5v6.5h-6.5zM160 560h40v6.5h-40zM193.5 560h6.5v40h-6.5zM1960 560h6.5v40h-6.5zM193.5 600h6.5v6.5h-6.5zM200 600h40v6.5h-40zM240 600h40v6.5h-40zM280 600h40v6.5h-40zM313.5 633.5h6.5v6.5h-6.5zM320 600h40v6.5h-40zM320 633.5h40v6.5h-40zM353.5 600h6.5v40h-6.5zM640 600h40v6.5h-40zM640 633.5h40v6.5h-40zM640 600h6.5v40h-6.5zM680 600h40v6.5h-40zM680 633.5h40v6.5h-40zM713.5 600h6.5v40h-6.5zM1160 600h40v6.5h-40zM1160 633.5h40v6.5h-40zM1160 600h6.5v40h-6.5zM1193.5 600h6.5v40h-6.5zM1960 600h6.5v40h-6.5zM313.5 640h6.5v40h-6.5zM1600 640h40v6.5h-40zM1600 673.5h40v6.5h-40zM1600 640h6.5v40h-6.5zM1633.5 640h6.5v40h-6.5zM1960 640h6.5v40h-6.5zM313.5 680h6.5v40h-6.5zM1960 680h6.5v40h-6.5zM313.5 720h6.5v40h-6.5zM1960 720h6.5v20h-6.5zM313.5 760h6.5v6.5h-6.5zM320 760h40v6.5h-40zM360 760h40v6.5h-40zM393.5 760h6.5v40h-6.5zM840 760h40v6.5h-40zM840 760h6.5v40h-6.5zM873.5 760h6.5v40h-6.5zM1880 760h40v6.5h-40zM1880 760h6.5v40h-6.5zM1920 760h40v6.5h-40zM873.5 800h6.5v6.5h-6.5zM880 800h40v6.5h-40zM920 800h40v6.5h-40zM960 800h40v6.5h-40zM1000 800h40v6.5h-40zM1880 800h6.5v20h-6.5zM1320 840h40v6.5h-40zM1320 840h6.5v20h-6.5zM1360 840h40v6.5h-40zM1393.5 840h6.5v40h-6.5zM1760 840h40v6.5h-40zM1800 840h40v6.5h-40zM1840 840h40v6.5h-40zM480 880h40v6.5h-40zM513.5 880h6.5v40h-6.5zM720 880h40v6.5h-40zM720 880h6.5v20h-6.5zM1120 880h40v6.5h-40zM1160 880h40v6.5h-40zM1200 880h40v6.5h-40zM1240 880h40v6.5h-40zM1280 880h40v6.5h-40zM1393.5 880h6.5v40h-6.5zM513.5 920h6.5v6.5h-6.5zM520 920h40v6.5h-40zM560 920h40v6.5h-40zM600 920h40v6.5h-40zM640 920h40v6.5h-40zM680 920h40v6.5h-40zM1393.5 920h6.5v6.5h-6.5zM1400 920h40v6.5h-40zM1440 920h40v6.5h-40zM1480 920h40v6.5h-40zM1520 920h40v6.5h-40zM1560 920h40v6.5h-40zM1600 920h40v6.5h-40zM1640 920h40v6.5h-40z" fill="#545359"/><path d="M360.00 75.00L360.00 80.00L320.00 120.00L315.00 120.00L315.00 114.60L354.60 75.00zM320.00 115.00L320.00 120.00L280.00 160.00L275.00 160.00L275.00 154.60L314.60 115.00zM920.00 115.00L920.00 120.00L960.00 160.00L965.00 160.00L965.00 154.60L925.40 115.00zM1280.00 115.00L1280.00 120.00L1240.00 160.00L1235.00 160.00L1235.00 154.60L1274.60 115.00zM1560.00 115.00L1560.00 120.00L1600.00 160.00L1605.00 160.00L1605.00 154.60L1565.40 115.00zM960.00 155.00L960.00 160.00L1000.00 200.00L1005.00 200.00L1005.00 194.60L965.40 155.00zM1240.00 155.00L1240.00 160.00L1200.00 200.00L1195.00 200.00L1195.00 194.60L1234.60 155.00zM1600.00 155.00L1600.00 160.00L1640.00 200.00L1645.00 200.00L1645.00 194.60L1605.40 155.00zM395.00 800.00L400.00 800.00L440.00 840.00L440.00 845.00L434.60 845.00L395.00 805.40zM845.00 800.00L840.00 800.00L800.00 840.00L800.00 845.00L805.40 845.00L845.00 805.40zM1035.00 800.00L1040.00 800.00L1080.00 840.00L1080.00 845.00L1074.60 845.00L1035.00 805.40zM435.00 840.00L440.00 840.00L480.00 880.00L480.00 885.00L474.60 885.00L435.00 845.40zM805.00 840.00L800.00 840.00L760.00 880.00L760.00 885.00L765.40 885.00L805.00 845.40zM1075.00 840.00L1080.00 840.00L1120.00 880.00L1120.00 885.00L1114.60 885.00L1075.00 845.40zM1765.00 840.00L1760.00 840.00L1720.00 880.00L1720.00 885.00L1725.40 885.00L1765.00 845.40zM1725.00 880.00L1720.00 880.00L1680.00 920.00L1680.00 925.00L1685.40 925.00L1725.00 885.40z" fill="#545359" shape-rendering="geometricPrecision"/><path d="M280 40h40v5h-40zM280 40h5v20h-5zM320 40h40v5h-40zM360 40h40v5h-40zM400 40h40v5h-40zM440 40h40v5h-40zM480 40h40v5h-40zM520 40h40v5h-40zM560 40h40v5h-40zM600 40h40v5h-40zM640 40h40v5h-40zM1280 40h40v5h-40zM1280 40h5v20h-5zM1320 40h40v5h-40zM1360 40h40v5h-40zM1400 40h40v5h-40zM1440 40h40v5h-40zM1480 40h40v5h-40zM1520 40h40v5h-40zM240 80h40v5h-40zM240 80h5v20h-5zM680 80h40v5h-40zM720 80h40v5h-40zM760 80h40v5h-40zM800 80h40v5h-40zM840 80h40v5h-40zM880 80h40v5h-40zM920 80h40v5h-40zM960 80h40v5h-40zM1240 80h40v5h-40zM1240 80h5v20h-5zM1560 80h40v5h-40zM120 120h40v5h-40zM120 120h5v40h-5zM160 120h40v5h-40zM200 120h40v5h-40zM1000 120h40v5h-40zM1200 120h40v5h-40zM1200 120h5v20h-5zM1600 120h40v5h-40zM120 160h5v20h-5zM1040 160h40v5h-40zM1080 160h40v5h-40zM1120 160h40v5h-40zM1160 160h40v5h-40zM1640 160h40v5h-40zM40 200h40v5h-40zM40 200h5v40h-5zM80 200h40v5h-40zM1680 200h40v5h-40zM1720 200h40v5h-40zM40 240h5v40h-5zM40 280h5v40h-5zM40 320h5v40h-5zM40 360h5v40h-5zM1760 360h40v5h-40zM1800 360h40v5h-40zM1840 360h40v5h-40zM40 400h5v40h-5zM1880 400h40v5h-40zM40 440h5v40h-5zM1920 440h40v5h-40zM40 480h5v40h-5zM1960 480h40v5h-40zM80 520h5v40h-5zM120 560h5v40h-5zM160 600h5v40h-5zM280 640h5v40h-5zM280 680h5v40h-5zM280 720h5v40h-5zM280 760h5v40h-5zM360 800h5v40h-5zM400 840h5v40h-5zM1000 840h5v40h-5zM440 880h5v40h-5zM1040 880h5v40h-5zM480 920h5v40h-5zM1360 920h5v40h-5z" fill="#3b3a3f"/><path d="M675 40h5v40h-5zM1555 40h5v40h-5zM675 80h5v5h-5zM995 80h5v40h-5zM1555 80h5v5h-5zM1595 80h5v40h-5zM995 120h5v5h-5zM1035 120h5v40h-5zM1635 120h5v40h-5zM1035 160h5v5h-5zM1675 160h5v40h-5zM1675 200h5v5h-5zM1755 200h5v40h-5zM1755 240h5v40h-5zM1755 280h5v40h-5zM1755 320h5v40h-5zM1755 360h5v5h-5zM1875 360h5v40h-5zM1875 400h5v5h-5zM1915 400h5v40h-5zM1915 440h5v5h-5zM1955 440h5v40h-5zM40 515h40v5h-40zM80 515h5v5h-5zM1955 480h5v5h-5zM1995 480h5v40h-5zM80 555h40v5h-40zM120 555h5v5h-5zM1995 520h5v40h-5zM120 595h40v5h-40zM160 595h5v5h-5zM1995 560h5v40h-5zM160 635h40v5h-40zM200 635h40v5h-40zM240 635h40v5h-40zM280 635h5v5h-5zM1995 600h5v40h-5zM1995 640h5v40h-5zM1995 680h5v40h-5zM1995 720h5v40h-5zM280 795h40v5h-40zM320 795h40v5h-40zM360 795h5v5h-5zM1915 795h5v5h-5zM1920 795h40v5h-40zM1960 795h40v5h-40zM1995 760h5v40h-5zM360 835h40v5h-40zM840 835h40v5h-40zM880 835h40v5h-40zM920 835h40v5h-40zM960 835h40v5h-40zM1000 835h5v5h-5zM1915 800h5v40h-5zM400 875h40v5h-40zM800 875h40v5h-40zM835 840h5v40h-5zM1000 875h40v5h-40zM1040 875h5v5h-5zM1795 875h5v5h-5zM1800 875h40v5h-40zM1840 875h40v5h-40zM1880 875h40v5h-40zM1915 840h5v40h-5zM440 915h40v5h-40zM480 915h5v5h-5zM755 915h5v5h-5zM760 915h40v5h-40zM795 880h5v40h-5zM1040 915h40v5h-40zM1080 915h40v5h-40zM1120 915h40v5h-40zM1160 915h40v5h-40zM1200 915h40v5h-40zM1240 915h40v5h-40zM1280 915h40v5h-40zM1320 915h40v5h-40zM1360 915h5v5h-5zM1755 915h5v5h-5zM1760 915h40v5h-40zM1795 880h5v40h-5zM480 955h40v5h-40zM520 955h40v5h-40zM560 955h40v5h-40zM600 955h40v5h-40zM640 955h40v5h-40zM680 955h40v5h-40zM720 955h40v5h-40zM755 920h5v40h-5zM1360 955h40v5h-40zM1400 955h40v5h-40zM1440 955h40v5h-40zM1480 955h40v5h-40zM1520 955h40v5h-40zM1560 955h40v5h-40zM1600 955h40v5h-40zM1640 955h40v5h-40zM1680 955h40v5h-40zM1720 955h40v5h-40zM1755 920h5v40h-5z" fill="#2d2c31"/><path d="M360 75h40v5h-40zM400 75h40v5h-40zM440 75h40v5h-40zM480 75h40v5h-40zM520 75h40v5h-40zM560 75h40v5h-40zM600 75h40v5h-40zM640 75h5v5h-5zM1315 75h5v5h-5zM1320 75h40v5h-40zM1360 75h40v5h-40zM1400 75h40v5h-40zM1440 75h40v5h-40zM1480 75h40v5h-40zM1520 75h5v5h-5zM640 80h5v40h-5zM715 115h5v5h-5zM720 115h40v5h-40zM760 115h40v5h-40zM800 115h40v5h-40zM840 115h40v5h-40zM880 115h40v5h-40zM1280 115h40v5h-40zM1315 80h5v40h-5zM1520 115h40v5h-40zM1520 80h5v40h-5zM155 155h5v5h-5zM160 155h40v5h-40zM200 155h40v5h-40zM240 155h40v5h-40zM640 155h40v5h-40zM640 120h5v40h-5zM680 155h40v5h-40zM715 120h5v40h-5zM155 160h5v40h-5zM1000 195h40v5h-40zM1040 195h40v5h-40zM1080 195h40v5h-40zM1120 195h40v5h-40zM1160 195h5v5h-5zM75 235h5v5h-5zM80 235h40v5h-40zM120 235h40v5h-40zM155 200h5v40h-5zM1160 235h40v5h-40zM1160 200h5v40h-5zM1195 200h5v40h-5zM1640 235h40v5h-40zM1640 200h5v40h-5zM1680 235h40v5h-40zM1720 235h5v5h-5zM75 240h5v40h-5zM1720 240h5v40h-5zM75 280h5v40h-5zM1720 280h5v40h-5zM75 320h5v40h-5zM400 320h40v5h-40zM400 355h40v5h-40zM400 320h5v40h-5zM435 320h5v40h-5zM1720 320h5v20h-5zM75 360h5v40h-5zM840 360h40v5h-40zM840 395h40v5h-40zM840 360h5v40h-5zM875 360h5v40h-5zM1320 360h40v5h-40zM1320 395h40v5h-40zM1320 360h5v40h-5zM1360 360h40v5h-40zM1360 395h40v5h-40zM1395 360h5v40h-5zM1680 360h40v5h-40zM1680 395h40v5h-40zM1680 360h5v40h-5zM1720 395h40v5h-40zM1760 395h40v5h-40zM1800 395h40v5h-40zM1840 395h5v5h-5zM75 400h5v40h-5zM1840 435h40v5h-40zM1840 400h5v40h-5zM1880 435h5v5h-5zM75 440h5v40h-5zM1880 475h40v5h-40zM1880 440h5v40h-5zM1920 475h5v5h-5zM75 480h5v5h-5zM80 480h40v5h-40zM115 480h5v40h-5zM1920 515h40v5h-40zM1920 480h5v40h-5zM1960 515h5v5h-5zM115 520h5v5h-5zM120 520h40v5h-40zM155 520h5v40h-5zM1960 520h5v40h-5zM155 560h5v5h-5zM160 560h40v5h-40zM195 560h5v40h-5zM1960 560h5v40h-5zM195 600h5v5h-5zM200 600h40v5h-40zM240 600h40v5h-40zM280 600h40v5h-40zM315 635h5v5h-5zM320 600h40v5h-40zM320 635h40v5h-40zM355 600h5v40h-5zM640 600h40v5h-40zM640 635h40v5h-40zM640 600h5v40h-5zM680 600h40v5h-40zM680 635h40v5h-40zM715 600h5v40h-5zM1160 600h40v5h-40zM1160 635h40v5h-40zM1160 600h5v40h-5zM1195 600h5v40h-5zM1960 600h5v40h-5zM315 640h5v40h-5zM1600 640h40v5h-40zM1600 675h40v5h-40zM1600 640h5v40h-5zM1635 640h5v40h-5zM1960 640h5v40h-5zM315 680h5v40h-5zM1960 680h5v40h-5zM315 720h5v40h-5zM1960 720h5v20h-5zM315 760h5v5h-5zM320 760h40v5h-40zM360 760h40v5h-40zM395 760h5v40h-5zM840 760h40v5h-40zM840 760h5v40h-5zM875 760h5v40h-5zM1880 760h40v5h-40zM1880 760h5v40h-5zM1920 760h40v5h-40zM875 800h5v5h-5zM880 800h40v5h-40zM920 800h40v5h-40zM960 800h40v5h-40zM1000 800h40v5h-40zM1880 800h5v20h-5zM1320 840h40v5h-40zM1320 840h5v20h-5zM1360 840h40v5h-40zM1395 840h5v40h-5zM1760 840h40v5h-40zM1800 840h40v5h-40zM1840 840h40v5h-40zM480 880h40v5h-40zM515 880h5v40h-5zM720 880h40v5h-40zM720 880h5v20h-5zM1120 880h40v5h-40zM1160 880h40v5h-40zM1200 880h40v5h-40zM1240 880h40v5h-40zM1280 880h40v5h-40zM1395 880h5v40h-5zM515 920h5v5h-5zM520 920h40v5h-40zM560 920h40v5h-40zM600 920h40v5h-40zM640 920h40v5h-40zM680 920h40v5h-40zM1395 920h5v5h-5zM1400 920h40v5h-40zM1440 920h40v5h-40zM1480 920h40v5h-40zM1520 920h40v5h-40zM1560 920h40v5h-40zM1600 920h40v5h-40zM1640 920h40v5h-40z" fill="#252429"/><path d="M360.00 75.00L360.00 80.00L320.00 120.00L315.00 120.00L315.00 117.40L357.40 75.00zM320.00 115.00L320.00 120.00L280.00 160.00L275.00 160.00L275.00 157.40L317.40 115.00zM920.00 115.00L920.00 120.00L960.00 160.00L965.00 160.00L965.00 157.40L922.60 115.00zM1280.00 115.00L1280.00 120.00L1240.00 160.00L1235.00 160.00L1235.00 157.40L1277.40 115.00zM1560.00 115.00L1560.00 120.00L1600.00 160.00L1605.00 160.00L1605.00 157.40L1562.60 115.00zM960.00 155.00L960.00 160.00L1000.00 200.00L1005.00 200.00L1005.00 197.40L962.60 155.00zM1240.00 155.00L1240.00 160.00L1200.00 200.00L1195.00 200.00L1195.00 197.40L1237.40 155.00zM1600.00 155.00L1600.00 160.00L1640.00 200.00L1645.00 200.00L1645.00 197.40L1602.60 155.00zM395.00 800.00L400.00 800.00L440.00 840.00L440.00 845.00L437.40 845.00L395.00 802.60zM845.00 800.00L840.00 800.00L800.00 840.00L800.00 845.00L802.60 845.00L845.00 802.60zM1035.00 800.00L1040.00 800.00L1080.00 840.00L1080.00 845.00L1077.40 845.00L1035.00 802.60zM435.00 840.00L440.00 840.00L480.00 880.00L480.00 885.00L477.40 885.00L435.00 842.60zM805.00 840.00L800.00 840.00L760.00 880.00L760.00 885.00L762.60 885.00L805.00 842.60zM1075.00 840.00L1080.00 840.00L1120.00 880.00L1120.00 885.00L1117.40 885.00L1075.00 842.60zM1765.00 840.00L1760.00 840.00L1720.00 880.00L1720.00 885.00L1722.60 885.00L1765.00 842.60zM1725.00 880.00L1720.00 880.00L1680.00 920.00L1680.00 925.00L1682.60 925.00L1725.00 882.60z" fill="#252429" shape-rendering="geometricPrecision"/><rect x="295" y="76" width="5" height="24" rx="2.5" fill="#252429"/><rect x="1295" y="76" width="5" height="24" rx="2.5" fill="#252429"/><rect x="255" y="116" width="5" height="24" rx="2.5" fill="#252429"/><rect x="1255" y="116" width="5" height="5" rx="2.5" fill="#252429"/><rect x="1215" y="156" width="5" height="5" rx="2.5" fill="#252429"/><rect x="135" y="196" width="5" height="24" rx="2.5" fill="#252429"/><rect x="1735" y="356" width="5" height="24" rx="2.5" fill="#252429"/><rect x="1975" y="756" width="5" height="24" rx="2.5" fill="#252429"/><rect x="1895" y="836" width="5" height="24" rx="2.5" fill="#252429"/><rect x="1335" y="876" width="5" height="24" rx="2.5" fill="#252429"/><rect x="735" y="916" width="5" height="24" rx="2.5" fill="#252429"/></g>
<g shape-rendering="geometricPrecision"><use href="#spike" x="600" y="80"/><use href="#spike" x="160" y="160"/><use href="#boostY" x="640" y="200"/><use href="#portal" x="1400" y="200"/><use href="#bomb" x="80" y="240"/><use href="#spike" x="1680" y="240"/><use href="#gate" x="320" y="320"/><use href="#gate" x="360" y="320"/><use href="#button" x="480" y="320"/><use href="#spike" x="840" y="320"/><use href="#bomb" x="1680" y="320"/><use href="#lime" x="880" y="360"/><use href="#boostB" x="1120" y="400"/><use href="#flagR" x="320" y="480"/><use href="#portal" x="1000" y="480"/><use href="#flagB" x="1680" y="480"/><use href="#boostR" x="880" y="560"/><use href="#lime" x="1120" y="600"/><use href="#bomb" x="320" y="640"/><use href="#spike" x="1160" y="640"/><use href="#button" x="1520" y="640"/><use href="#gate" x="1640" y="640"/><use href="#gate" x="1680" y="640"/><use href="#spike" x="320" y="720"/><use href="#bomb" x="1920" y="720"/><use href="#portal" x="600" y="760"/><use href="#boostY" x="1360" y="760"/><use href="#spike" x="1840" y="800"/><use href="#spike" x="1400" y="880"/></g>
</svg></body></html>
